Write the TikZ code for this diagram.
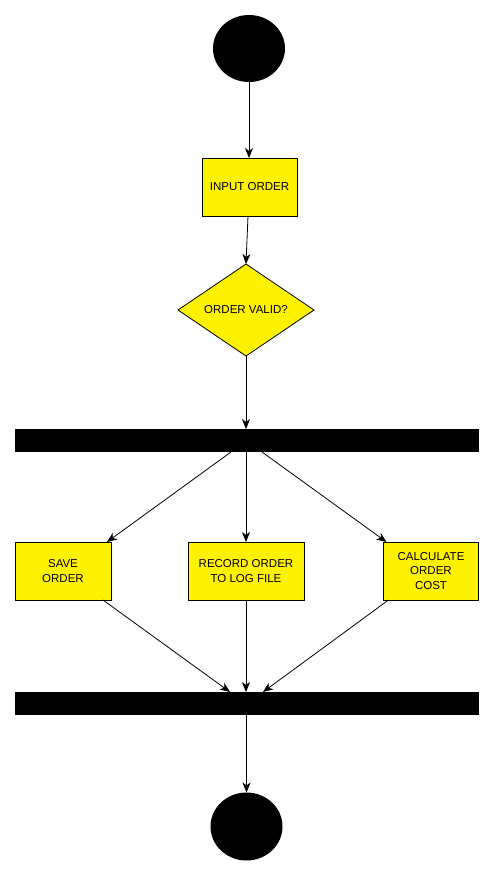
\documentclass[tikz,border=0pt]{standalone}
\usepackage{fontspec}
\setmainfont{Liberation Sans}
\usetikzlibrary{shapes.geometric,arrows.meta}
\begin{document}
\begin{tikzpicture}[x=1pt,y=-1pt,
  every node/.style={inner sep=0pt,outer sep=0pt},
  act/.style={draw=black,line width=0.8pt,fill=yellow,rectangle,align=center,
    font=\fontsize{11.5}{14.5}\selectfont},
  dec/.style={draw=black,line width=0.8pt,fill=yellow,diamond,
    font=\fontsize{11.5}{14.5}\selectfont,minimum width=136pt,minimum height=92pt},
  term/.style={fill=black,ellipse},
  bar/.style={fill=black,rectangle,minimum width=464pt,minimum height=23pt},
  arr/.style={draw=black,line width=0.8pt,-{Stealth[length=10pt,width=8pt,inset=3pt]}}]
\useasboundingbox (0,0) rectangle (493,876);
\fill[white] (0,0) rectangle (493,876);
\node[term,minimum width=72pt,minimum height=67pt] (start) at (249,48.5) {};
\node[act,minimum width=95pt,minimum height=58pt] (input) at (249.5,187) {INPUT ORDER};
\node[dec] (valid) at (246,310) {ORDER VALID?};
\node[bar] (fork) at (247,440.5) {};
\node[act,minimum width=96pt,minimum height=58pt] (save) at (63,571) {SAVE\\ORDER};
\node[act,minimum width=116pt,minimum height=58pt] (record) at (246,571) {RECORD ORDER\\TO LOG FILE};
\node[act,minimum width=95pt,minimum height=58pt] (calc) at (431,571) {CALCULATE\\ORDER\\COST};
\node[bar] (join) at (247,703.5) {};
\node[term,minimum width=72pt,minimum height=68pt] (end) at (246.5,826.5) {};
\draw[arr] (start.south) -- (input.north -| start.south);
\draw[arr] ([xshift=-1.5pt]input.south) -- (valid.north);
\draw[arr] (valid.south) -- (fork.north -| valid.south);
\draw[arr] ([xshift=-16pt]fork.south) -- ([xshift=-4pt]save.north east);
\draw[arr] ([xshift=-1pt]fork.south) -- (record.north);
\draw[arr] ([xshift=15pt]fork.south) -- ([xshift=3pt]calc.north west);
\draw[arr] ([xshift=-8pt]save.south east) -- ([xshift=-17pt]join.north);
\draw[arr] (record.south) -- (join.north -| record.south);
\draw[arr] ([xshift=5pt]calc.south west) -- ([xshift=16pt]join.north);
\draw[arr] (join.south -| end.north) -- (end.north);
\end{tikzpicture}
\end{document}
